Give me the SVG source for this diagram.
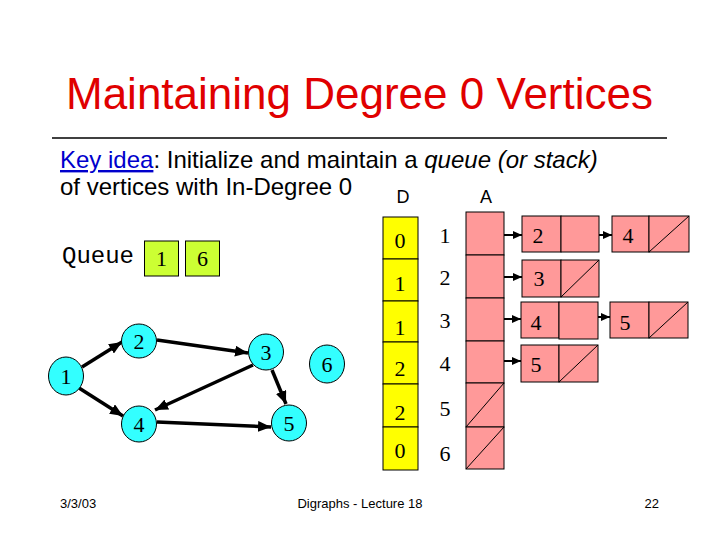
<svg xmlns="http://www.w3.org/2000/svg" width="720" height="540" viewBox="0 0 720 540">
<style>
.sans{font-family:"Liberation Sans",Arial,sans-serif;}
.serif{font-family:"Liberation Serif","Times New Roman",serif;}
.mono{font-family:"Liberation Mono","Courier New",monospace;}
.node ellipse{fill:#33ffff;stroke:#000;stroke-width:1}
.node text{font-family:"Liberation Serif","Times New Roman",serif;font-size:22px;text-anchor:middle;fill:#000}
.q rect{fill:#ccff33;stroke:#000;stroke-width:1}
.d rect{fill:#ffff00;stroke:#000;stroke-width:1}
.a rect{fill:#ff9999;stroke:#000;stroke-width:1}
.slash{stroke:#000;stroke-width:1;fill:none}
.val{font-family:"Liberation Serif","Times New Roman",serif;font-size:22px;text-anchor:middle;fill:#000}
.edge{stroke:#000;stroke-width:3.5;fill:none;marker-end:url(#ah)}
.ptr{stroke:#000;stroke-width:2;fill:none;marker-end:url(#ah2)}
</style>
<defs>
<marker id="ah" markerUnits="userSpaceOnUse" markerWidth="13" markerHeight="11" refX="13" refY="5.5" orient="auto">
<path d="M0,0 L13,5.5 L0,11 z" fill="#000"/>
</marker>
<marker id="ah2" markerUnits="userSpaceOnUse" markerWidth="9" markerHeight="8" refX="9" refY="4" orient="auto">
<path d="M0,0 L9,4 L0,8 z" fill="#000"/>
</marker>
</defs>
<rect width="720" height="540" fill="#fff"/>
<text x="359.5" y="109" class="sans" font-size="44" fill="#e00000" text-anchor="middle">Maintaining Degree 0 Vertices</text>
<line x1="52" y1="138" x2="667" y2="138" stroke="#000" stroke-width="1.5"/>
<text x="60" y="168" class="sans" font-size="24" fill="#000"><tspan fill="#0000cc" text-decoration="underline">Key idea</tspan>: Initialize and maintain a <tspan font-style="italic">queue (or stack)</tspan></text>
<text x="60" y="195" class="sans" font-size="24" fill="#000">of vertices with In-Degree 0</text>
<text x="403" y="203" class="sans" font-size="18" text-anchor="middle" fill="#000">D</text>
<text x="486" y="203" class="sans" font-size="18" text-anchor="middle" fill="#000">A</text>

<g id="queue">
<text x="62" y="263" class="mono" font-size="24" fill="#000">Queue</text>
<g class="q">
<rect x="144.5" y="241" width="34" height="35"/>
<rect x="185.5" y="241" width="34" height="35"/>
</g>
<text x="161.5" y="266" class="val">1</text>
<text x="202.5" y="266" class="val">6</text>
</g>

<g id="connectors">
<line class="edge" x1="82" y1="367" x2="122" y2="342"/>
<line class="edge" x1="79" y1="388" x2="123" y2="416"/>
<line class="edge" x1="157" y1="340" x2="248" y2="353"/>
<line class="edge" x1="253" y1="365" x2="155" y2="410"/>
<line class="edge" x1="272" y1="370" x2="286" y2="404"/>
<line class="edge" x1="157" y1="422" x2="271" y2="427"/>
<line class="ptr" x1="485" y1="235" x2="522" y2="235"/>
<line class="ptr" x1="577" y1="235" x2="612" y2="235"/>
<line class="ptr" x1="486" y1="277" x2="522" y2="277"/>
<line class="ptr" x1="485" y1="319" x2="521" y2="319"/>
<line class="ptr" x1="574" y1="317" x2="610" y2="317"/>
<line class="ptr" x1="486" y1="361" x2="521" y2="361"/>
</g>

<g id="n1" class="node"><ellipse cx="66" cy="376" rx="17.5" ry="19"/><text x="66" y="384">1</text></g>
<g id="n2" class="node"><ellipse cx="139" cy="341" rx="17.5" ry="17"/><text x="139" y="349">2</text></g>
<g id="n3" class="node"><ellipse cx="266" cy="352" rx="17.5" ry="18"/><text x="266" y="360">3</text></g>
<g id="n4" class="node"><ellipse cx="139" cy="424" rx="17.5" ry="18"/><text x="139" y="432">4</text></g>
<g id="n5" class="node"><ellipse cx="289" cy="423" rx="17.5" ry="18"/><text x="289" y="431">5</text></g>
<g id="n6" class="node"><ellipse cx="327" cy="364" rx="17.5" ry="19"/><text x="327" y="372">6</text></g>

<g id="D" class="d">
<rect x="383" y="217" width="35" height="42"/>
<rect x="383" y="259" width="35" height="42"/>
<rect x="383" y="301" width="35" height="41"/>
<rect x="383" y="342" width="35" height="42"/>
<rect x="383" y="384" width="35" height="43"/>
<rect x="383" y="427" width="35" height="43"/>
<text x="400" y="248" class="val">0</text>
<text x="400" y="291" class="val">1</text>
<text x="400" y="335" class="val">1</text>
<text x="400" y="376" class="val">2</text>
<text x="400" y="420" class="val">2</text>
<text x="400" y="458" class="val">0</text>
</g>

<g id="index">
<text x="445" y="243" class="val">1</text>
<text x="445" y="285" class="val">2</text>
<text x="445" y="328" class="val">3</text>
<text x="445" y="371" class="val">4</text>
<text x="445" y="416" class="val">5</text>
<text x="445" y="461" class="val">6</text>
</g>

<g id="A" class="a">
<rect x="466" y="212" width="38" height="43"/>
<rect x="466" y="255" width="38" height="43"/>
<rect x="466" y="298" width="38" height="43"/>
<rect x="466" y="341" width="38" height="42"/>
<rect x="466" y="383" width="38" height="44"/>
<rect x="466" y="427" width="38" height="42"/>
<line class="slash" x1="466" y1="427" x2="504" y2="383"/>
<line class="slash" x1="466" y1="469" x2="504" y2="427"/>
</g>

<g id="list1" class="a">
<rect x="522" y="216" width="39" height="36"/>
<rect x="561" y="216" width="38" height="36"/>
<text x="538" y="243" class="val">2</text>
<rect x="612" y="216" width="37" height="36"/>
<rect x="649" y="216" width="40" height="36"/>
<line class="slash" x1="649" y1="252" x2="689" y2="216"/>
<text x="628" y="243" class="val">4</text>
</g>

<g id="list2" class="a">
<rect x="522" y="260" width="39" height="37"/>
<rect x="561" y="260" width="38" height="37"/>
<line class="slash" x1="561" y1="297" x2="599" y2="260"/>
<text x="539" y="286" class="val">3</text>
</g>

<g id="list3" class="a">
<rect x="521" y="302" width="38" height="36"/>
<rect x="559" y="302" width="39" height="37"/>
<text x="536" y="330" class="val">4</text>
<rect x="610" y="302" width="39" height="36"/>
<rect x="649" y="302" width="39" height="36"/>
<line class="slash" x1="649" y1="338" x2="688" y2="302"/>
<text x="625" y="330" class="val">5</text>
</g>

<g id="list4" class="a">
<rect x="521" y="345" width="38" height="37"/>
<rect x="559" y="345" width="39" height="37"/>
<line class="slash" x1="559" y1="382" x2="598" y2="345"/>
<text x="536" y="372" class="val">5</text>
</g>

<g id="footer" class="sans" font-size="13" fill="#000">
<text x="60" y="508">3/3/03</text>
<text x="360" y="508" text-anchor="middle">Digraphs - Lecture 18</text>
<text x="659" y="508" text-anchor="end">22</text>
</g>
</svg>
